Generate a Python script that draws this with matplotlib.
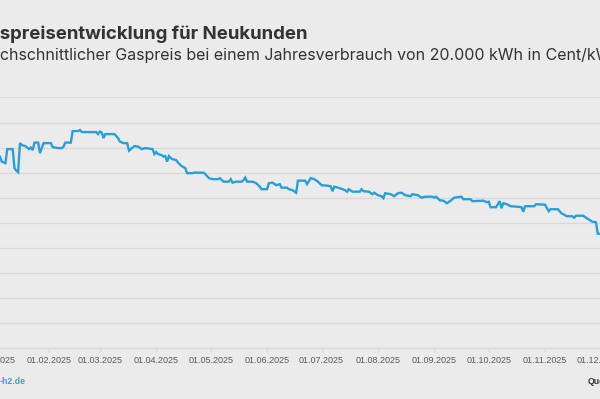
import matplotlib
matplotlib.use("Agg")
import matplotlib.pyplot as plt
import matplotlib.dates as mdates
import numpy as np
import pandas as pd

# day of year 2025 (0 = 01.01.2025) and average new-customer gas price (ct/kWh)
day_of_year = [
    0, 2, 4, 5, 7, 8, 11, 12, 13, 14, 15, 16, 18, 19, 20, 21, 22, 23, 25, 26,
    28, 32, 33, 36, 38, 39, 40, 43, 44, 47, 48, 49, 57, 58, 59, 60, 61, 62, 67, 69,
    70, 72, 74, 75, 77, 78, 80, 82, 84, 88, 89, 90, 91, 93, 94, 95, 96, 97, 98, 99,
    101, 102, 104, 106, 107, 110, 111, 116, 117, 119, 121, 124, 125, 127, 130, 131, 132, 134, 137, 138,
    139, 140, 143, 145, 147, 148, 151, 152, 154, 156, 158, 159, 162, 163, 165, 167, 168, 172, 173, 175,
    177, 179, 181, 184, 186, 187, 188, 191, 194, 195, 196, 198, 202, 203, 204, 207, 209, 210, 212, 214,
    215, 216, 219, 221, 223, 225, 227, 230, 231, 234, 236, 238, 242, 243, 244, 246, 248, 250, 252, 254,
    258, 259, 263, 264, 270, 272, 273, 274, 277, 279, 280, 281, 283, 285, 289, 291, 292, 293, 298, 299,
    304, 306, 307, 311, 313, 316, 319, 320, 321, 325, 327, 330, 332, 333, 337,
]
price = [
    10.95, 10.90, 10.82, 10.72, 10.69, 10.97, 10.97, 10.59, 10.54, 10.51, 11.09, 11.05, 11.03, 11.00, 10.97, 11.00, 10.95, 11.10, 11.10, 10.89,
    11.09, 11.09, 11.01, 10.99, 10.99, 11.02, 11.10, 11.10, 11.33, 11.33, 11.35, 11.31, 11.31, 11.27, 11.32, 11.30, 11.19, 11.27, 11.27, 11.19,
    11.12, 11.09, 11.09, 10.94, 11.00, 11.03, 11.02, 10.97, 10.99, 10.97, 10.87, 10.91, 10.87, 10.85, 10.82, 10.83, 10.72, 10.83, 10.79, 10.77,
    10.75, 10.70, 10.63, 10.59, 10.49, 10.49, 10.50, 10.50, 10.47, 10.39, 10.37, 10.37, 10.39, 10.32, 10.32, 10.37, 10.30, 10.32, 10.32, 10.35,
    10.40, 10.32, 10.32, 10.29, 10.22, 10.17, 10.17, 10.29, 10.30, 10.25, 10.27, 10.20, 10.20, 10.17, 10.15, 10.10, 10.34, 10.34, 10.27, 10.39,
    10.37, 10.32, 10.25, 10.24, 10.23, 10.13, 10.22, 10.19, 10.15, 10.12, 10.17, 10.12, 10.12, 10.17, 10.13, 10.12, 10.07, 10.10, 10.05, 10.03,
    9.99, 10.09, 10.07, 10.03, 10.09, 10.10, 10.05, 10.03, 10.07, 10.05, 10.00, 10.02, 10.02, 10.00, 10.02, 9.95, 9.94, 9.89, 9.94, 10.00,
    10.02, 9.97, 9.97, 9.93, 9.94, 9.91, 9.92, 9.81, 9.81, 9.93, 9.79, 9.89, 9.87, 9.83, 9.82, 9.81, 9.72, 9.83, 9.83, 9.87,
    9.86, 9.73, 9.77, 9.77, 9.69, 9.63, 9.63, 9.60, 9.64, 9.64, 9.59, 9.52, 9.51, 9.28, 9.28,
]

title = "Gaspreisentwicklung für Neukunden"
subtitle = "Durchschnittlicher Gaspreis bei einem Jahresverbrauch von 20.000 kWh in Cent/kWh"
y_ticks = np.arange(7.0, 12.01, 0.5)

bg = "#ebebeb"
grid_col = "#d9d9d9"
line_col = "#2a9fd6"
text_col = "#333333"

plt.rcParams["font.family"] = ["Liberation Sans", "DejaVu Sans"]

dates = pd.Timestamp("2025-01-01") + pd.to_timedelta(day_of_year, unit="D")

fig = plt.figure(figsize=(6, 3.99), dpi=100, facecolor=bg)
W, H = 600, 399

# axes placed so that the visible crop matches (part of the axes lies off-canvas)
x0_day, x1_day = -10, 350
px_per_day = 1.817
px_jan1 = -7.3
left_px = px_jan1 + px_per_day * x0_day
right_px = px_jan1 + px_per_day * x1_day
bottom_px, top_px = 348, 97.5
ax = fig.add_axes([left_px / W, (H - bottom_px) / H, (right_px - left_px) / W, (bottom_px - top_px) / H])
ax.set_facecolor(bg)

ax.plot(dates, price, color=line_col, linewidth=1.7, solid_joinstyle="miter", zorder=3)

start = pd.Timestamp("2025-01-01")
ax.set_xlim(start + pd.Timedelta(days=x0_day), start + pd.Timedelta(days=x1_day))
ax.set_ylim(y_ticks[0], y_ticks[-1])
ax.set_yticks(y_ticks)
ax.tick_params(axis="y", length=0, labelleft=False)
ax.grid(axis="y", color=grid_col, linewidth=0.9)
ax.xaxis.set_major_locator(mdates.MonthLocator(bymonthday=1))
ax.xaxis.set_major_formatter(mdates.DateFormatter("%d.%m.%Y"))
ax.tick_params(axis="x", length=3, width=0.8, color=grid_col, pad=3, labelsize=6.5, labelcolor="#5a5a5a")
for s in ax.spines.values():
    s.set_visible(False)
ax.spines["bottom"].set_visible(True)
ax.spines["bottom"].set_color(grid_col)
ax.spines["bottom"].set_linewidth(0.9)

# title and subtitle, left part cut off by the crop
renderer = fig.canvas.get_renderer()


def prefix_width(s, **kw):
    t = fig.text(0, 0, s, **kw)
    w = t.get_window_extent(renderer).width
    t.remove()
    return w


title_kw = dict(fontsize=13.4, fontweight="bold", color=text_col, family=["Inter", "DejaVu Sans"])
sub_kw = dict(fontsize=11.5, color=text_col, family=["Inter", "DejaVu Sans"])
tx = -prefix_width("Ga", **title_kw)
sx = -prefix_width("Dur", **sub_kw)
fig.text(tx / W, (H - 39) / H, title, ha="left", va="baseline", **title_kw)
fig.text(sx / W, (H - 60) / H, subtitle, ha="left", va="baseline", **sub_kw)

fig.text(0 / W, (H - 382) / H, "-h2.de", ha="left", va="center", fontsize=6.3,
         fontweight="bold", color="#3a9fd0")
fig.text(588 / W, (H - 382) / H, "Quelle:", ha="left", va="center", fontsize=6.3,
         fontweight="bold", color=text_col)

fig.savefig("out.png", dpi=100, facecolor=bg)
